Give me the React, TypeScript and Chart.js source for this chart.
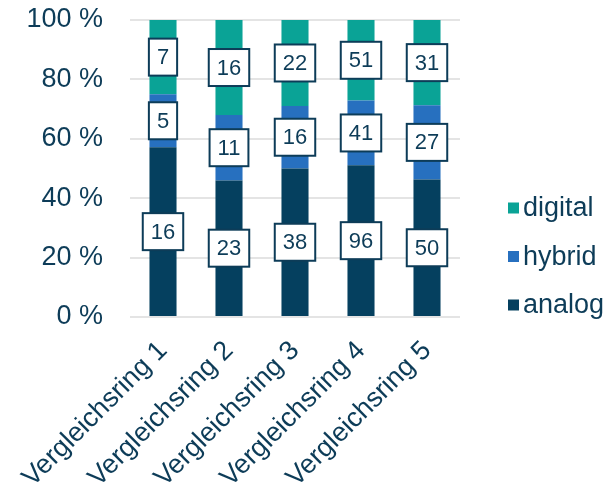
import React, { useEffect, useRef } from "react";
import { Chart, registerables } from "chart.js";

Chart.register(...registerables);

const categories = ["Vergleichsring 1", "Vergleichsring 2", "Vergleichsring 3", "Vergleichsring 4", "Vergleichsring 5"];
const analog = [16, 23, 38, 96, 50];
const hybrid = [5, 11, 16, 41, 27];
const digital = [7, 16, 22, 51, 31];
const yTicks = [0, 20, 40, 60, 80, 100];

const COLORS = { analog: "#05405f", hybrid: "#2770bf", digital: "#0aa396" };
const TEXT = "#0d3c58";
const FONT = "'Liberation Sans', Arial, sans-serif";

const totals = categories.map((_, i) => analog[i] + hybrid[i] + digital[i]);
const pct = (arr: number[]) => arr.map((v, i) => (v / totals[i]) * 100);

const labelBoxPlugin = {
  id: "labelBoxes",
  afterDatasetsDraw(chart: any) {
    const ctx = chart.ctx;
    ctx.save();
    ctx.font = `22px ${FONT}`;
    ctx.textAlign = "center";
    ctx.textBaseline = "middle";
    chart.data.datasets.forEach((ds: any, di: number) => {
      const meta = chart.getDatasetMeta(di);
      meta.data.forEach((el: any, i: number) => {
        const text = String(ds.counts[i]);
        const w = ctx.measureText(text).width + 16;
        const h = 37;
        const cx = el.x;
        const cy = (el.y + el.base) / 2;
        ctx.fillStyle = "#ffffff";
        ctx.fillRect(cx - w / 2, cy - h / 2, w, h);
        ctx.lineWidth = 2;
        ctx.strokeStyle = TEXT;
        ctx.strokeRect(cx - w / 2, cy - h / 2, w, h);
        ctx.fillStyle = TEXT;
        ctx.fillText(text, cx, cy + 1);
      });
    });
    ctx.restore();
  },
};

const legendPlugin = {
  id: "customLegend",
  afterDraw(chart: any) {
    const ctx = chart.ctx;
    ctx.save();
    ctx.font = `27px ${FONT}`;
    ctx.textAlign = "left";
    ctx.textBaseline = "middle";
    const items = [...chart.data.datasets].reverse();
    items.forEach((ds: any, i: number) => {
      const cy = 208 + i * 48.5;
      ctx.fillStyle = ds.backgroundColor;
      ctx.fillRect(508, cy - 5.5, 11, 11);
      ctx.fillStyle = TEXT;
      ctx.fillText(ds.label, 523, cy + 1);
    });
    ctx.restore();
  },
};

export default function App() {
  const ref = useRef<HTMLCanvasElement>(null);
  useEffect(() => {
    document.body.style.margin = "0";
    const chart = new Chart(ref.current!, {
      type: "bar",
      data: {
        labels: categories,
        datasets: [
          { label: "analog", data: pct(analog), counts: analog, backgroundColor: COLORS.analog } as any,
          { label: "hybrid", data: pct(hybrid), counts: hybrid, backgroundColor: COLORS.hybrid } as any,
          { label: "digital", data: pct(digital), counts: digital, backgroundColor: COLORS.digital } as any,
        ],
      },
      options: {
        animation: false,
        responsive: false,
        maintainAspectRatio: false,
        layout: { padding: { top: 20, right: 149, left: 0, bottom: 0 } },
        datasets: { bar: { barPercentage: 0.41, categoryPercentage: 1 } },
        plugins: { legend: { display: false }, tooltip: { enabled: false } },
        scales: {
          x: {
            stacked: true,
            grid: { display: false },
            border: { display: false },
            ticks: {
              color: TEXT,
              font: { size: 27, family: FONT },
              maxRotation: 45,
              minRotation: 45,
              padding: 10,
              autoSkip: false,
            },
            afterFit: (s: any) => {
              s.height = 175;
              s.paddingLeft = 0;
              s.paddingRight = 0;
            },
          },
          y: {
            stacked: true,
            min: 0,
            max: 100,
            grid: { color: "#e4e4e4", lineWidth: 2, drawTicks: false },
            border: { display: false },
            afterBuildTicks: (s: any) => {
              s.ticks = yTicks.map((v) => ({ value: v }));
            },
            ticks: {
              color: TEXT,
              font: { size: 27, family: FONT },
              padding: 27,
              callback: (v: any) => `${v} %`,
            },
            afterFit: (s: any) => {
              s.width = 130;
              s.paddingTop = 0;
              s.paddingBottom = 0;
            },
          },
        },
      } as any,
      plugins: [labelBoxPlugin, legendPlugin],
    });
    return () => chart.destroy();
  }, []);
  return (
    <div style={{ width: 609, height: 492 }}>
      <canvas ref={ref} width={609} height={492} style={{ width: 609, height: 492, display: "block" }} />
    </div>
  );
}
